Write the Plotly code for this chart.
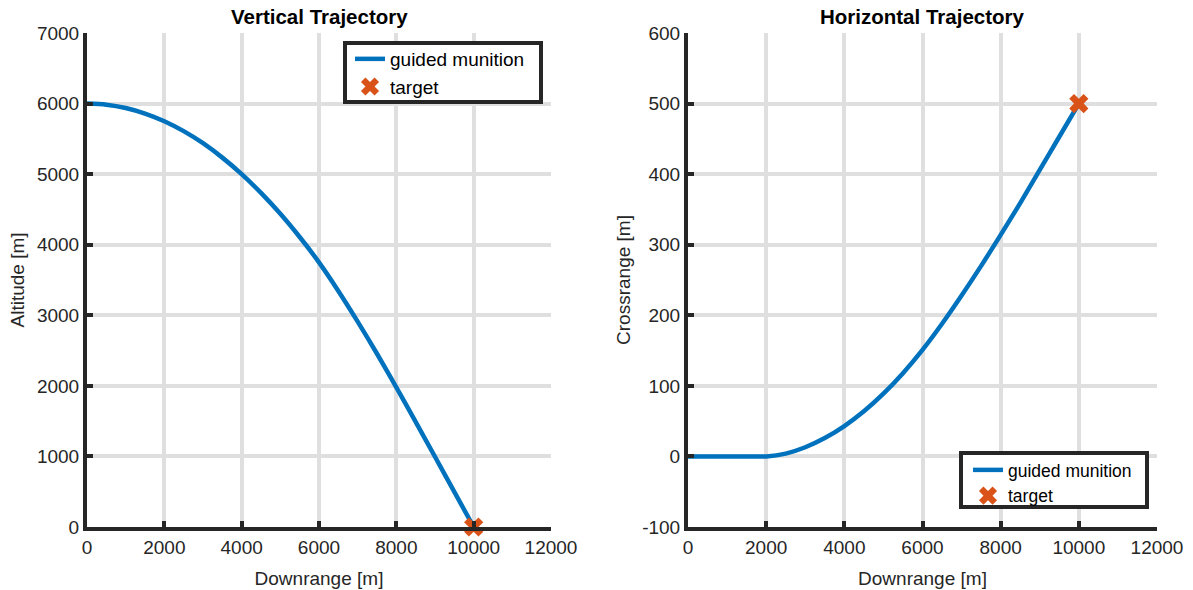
import plotly.graph_objects as go

# Vertical plane trajectory (downrange vs altitude)
downrange_v = [0, 500, 1000, 1500, 2000, 2500, 3000, 3500, 4000, 4500, 5000,
               5500, 6000, 6500, 7000, 7500, 8000, 8500, 9000, 9500, 10000]
altitude = [6000, 5984, 5938, 5859, 5750, 5609, 5438, 5234, 5000, 4734, 4438,
            4109, 3750, 3345, 2910, 2455, 1980, 1490, 995, 498, 0]

# Horizontal plane trajectory (downrange vs crossrange)
downrange_h = [0, 500, 1000, 1500, 2000, 2500, 3000, 3500, 4000, 4500, 5000,
               5500, 6000, 6500, 7000, 7500, 8000, 8500, 9000, 9500, 10000]
crossrange = [0, 0, 0, 0, 0, 4, 13, 26, 43, 64, 89,
              118, 151, 188, 228, 270, 314, 359, 406, 453, 500]

target_down = [10000]
target_alt = [0]
target_cross = [500]

ticks_x = [0, 2000, 4000, 6000, 8000, 10000, 12000]
ticks_alt = [0, 1000, 2000, 3000, 4000, 5000, 6000, 7000]
ticks_cross = [-100, 0, 100, 200, 300, 400, 500, 600]

BLUE = "#0072BD"
ORANGE = "#D95319"
AX = "#262626"
GRID = "#dfdfdf"
FONT = "Liberation Sans, Arial, sans-serif"
W, H = 1193, 590

fig = go.Figure()

fig.add_trace(go.Scatter(x=downrange_v, y=altitude, mode="lines", name="guided munition",
                         line=dict(color=BLUE, width=4.5, shape="spline", smoothing=0.8),
                         xaxis="x", yaxis="y", legend="legend"))
fig.add_trace(go.Scatter(x=target_down, y=target_alt, mode="markers", name="target",
                         marker=dict(symbol="x", size=17, color=ORANGE),
                         xaxis="x", yaxis="y", legend="legend", cliponaxis=False))

fig.add_trace(go.Scatter(x=downrange_h, y=crossrange, mode="lines", name="guided munition",
                         line=dict(color=BLUE, width=4.5, shape="spline", smoothing=0.8),
                         xaxis="x2", yaxis="y2", legend="legend2"))
fig.add_trace(go.Scatter(x=target_down, y=target_cross, mode="markers", name="target",
                         marker=dict(symbol="x", size=17, color=ORANGE),
                         xaxis="x2", yaxis="y2", legend="legend2", cliponaxis=False))

axis_common = dict(
    showline=True, linewidth=4, linecolor=AX, mirror=False,
    showgrid=True, gridcolor=GRID, gridwidth=4,
    ticks="inside", ticklen=6, tickwidth=4, tickcolor=AX,
    zeroline=False, automargin=False,
    tickfont=dict(size=19, color=AX, family=FONT),
)

y0 = 1 - 527 / H
y1 = 1 - 33 / H


def labels(vals):
    return [str(v) for v in vals]


def px_box(x0, y0p, x1, y1p):
    # legend frame in pixel coordinates, converted to paper units
    return dict(type="rect", xref="paper", yref="paper", layer="above",
                x0=x0 / W, x1=x1 / W, y0=1 - y1p / H, y1=1 - y0p / H,
                fillcolor="white", line=dict(color=AX, width=4))


legend_common = dict(xanchor="left", yanchor="top", bgcolor="rgba(0,0,0,0)",
                     borderwidth=0, tracegroupgap=0, itemwidth=30)

fig.update_layout(
    width=W, height=H,
    margin=dict(l=0, r=0, t=0, b=0),
    paper_bgcolor="white", plot_bgcolor="white",
    font=dict(family=FONT, color=AX, size=19),
    xaxis=dict(domain=[87 / W, 551 / W], range=[0, 12000],
               tickvals=ticks_x, ticktext=labels(ticks_x),
               title=dict(text="Downrange [m]", font=dict(size=19), standoff=16),
               anchor="y", **axis_common),
    yaxis=dict(domain=[y0, y1], range=[0, 7000],
               tickvals=ticks_alt, ticktext=labels(ticks_alt),
               title=dict(text="Altitude [m]", font=dict(size=19), standoff=8),
               anchor="x", **axis_common),
    xaxis2=dict(domain=[688 / W, 1157 / W], range=[0, 12000],
                tickvals=ticks_x, ticktext=labels(ticks_x),
                title=dict(text="Downrange [m]", font=dict(size=19), standoff=16),
                anchor="y2", **axis_common),
    yaxis2=dict(domain=[y0, y1], range=[-100, 600],
                tickvals=ticks_cross, ticktext=labels(ticks_cross),
                title=dict(text="Crossrange [m]", font=dict(size=19), standoff=8),
                anchor="x2", **axis_common),
    legend=dict(x=350 / W, y=1 - 40 / H,
                font=dict(size=19, color="black", family=FONT), **legend_common),
    legend2=dict(x=968 / W, y=1 - 452 / H,
                 font=dict(size=17.5, color="black", family=FONT), **legend_common),
    shapes=[px_box(345, 43, 541, 102), px_box(961, 453, 1147, 507)],
    annotations=[
        dict(text="<b>Vertical Trajectory</b>", x=(87 + 551) / 2 / W, y=1 - 17 / H,
             xref="paper", yref="paper", xanchor="center", yanchor="middle",
             showarrow=False, font=dict(size=20.5, color="black", family=FONT)),
        dict(text="<b>Horizontal Trajectory</b>", x=(688 + 1157) / 2 / W, y=1 - 17 / H,
             xref="paper", yref="paper", xanchor="center", yanchor="middle",
             showarrow=False, font=dict(size=20.5, color="black", family=FONT)),
    ],
)

fig.write_html("out.html")
